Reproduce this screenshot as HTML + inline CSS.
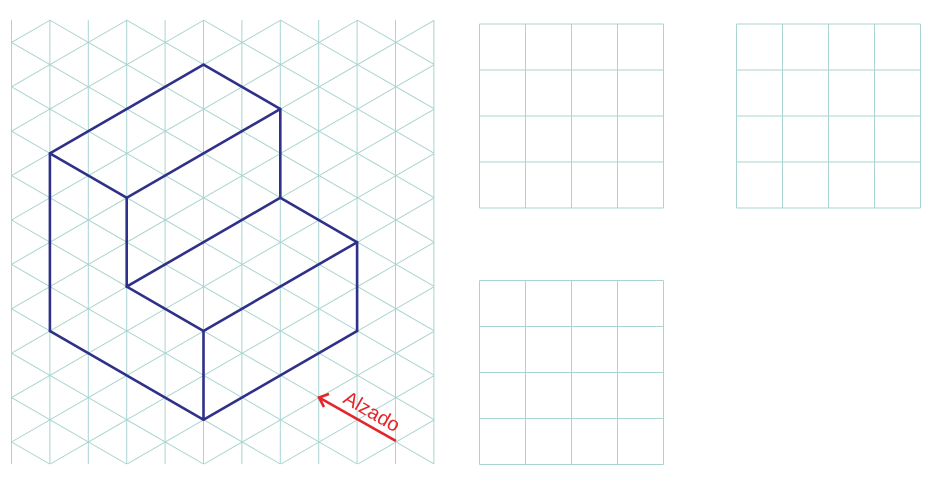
<!DOCTYPE html>
<html><head><meta charset="utf-8"><style>
html,body{margin:0;padding:0;background:#fff;width:933px;height:490px;overflow:hidden}
svg{display:block}
</style></head><body>
<svg id="s" width="933" height="490" viewBox="0 0 933 490">
<g id="grid" stroke="#a9d4d0" stroke-width="1"></g>
<g id="squares" stroke="#a9d4d0" stroke-width="1" fill="none"></g>
<g id="shape" stroke="#2e3089" stroke-width="2.6" fill="none" stroke-linejoin="round" stroke-linecap="round"></g>
<g>
<line x1="396" y1="441" x2="320" y2="398" stroke="#e3262b" stroke-width="2.6"/>
<polyline points="329,394 319,397.5 324,407" fill="none" stroke="#e3262b" stroke-width="2.6"/>
<text x="0" y="0" transform="translate(342,402) rotate(30)" font-family="Liberation Sans, sans-serif" font-size="20" fill="#e3262b">Alzado</text>
</g>
</svg>
<script>
const NS="http://www.w3.org/2000/svg";
const cols=[0,1,2,3,4,5,6,7,8,9,10,11];
const x0=11.5,dx=38.4,y0=42.4,dy=44.4,t=Math.tan(Math.PI/6);
const XL=11.5,XR=434,YT=20,YB=464;
function ln(g,a,b,c,d){const l=document.createElementNS(NS,'line');l.setAttribute('x1',a);l.setAttribute('y1',b);l.setAttribute('x2',c);l.setAttribute('y2',d);g.appendChild(l);return l;}
function clipLine(yStart,s){
  // line y = yStart + s*(x-XL), clip to rect
  let xa=XL,xb=XR;
  const xAt=y=>XL+(y-yStart)/s;
  const xt=xAt(YT),xbm=xAt(YB);
  const lo=Math.min(xt,xbm),hi=Math.max(xt,xbm);
  xa=Math.max(xa,lo);xb=Math.min(xb,hi);
  if(xb<=xa)return null;
  return [xa,yStart+s*(xa-XL),xb,yStart+s*(xb-XL)];
}
const grid=document.getElementById('grid');
cols.forEach(k=>{const l=ln(grid,x0+k*dx,YT,x0+k*dx,YB);

});
for(let k=-12;k<=22;k++){const y=y0+k*dy;
const p=clipLine(y,t);
if(p){const a=ln(grid,p[0],p[1],p[2],p[3]);

}
const q=clipLine(y,-t);
if(q){const b=ln(grid,q[0],q[1],q[2],q[3]);

}}
const sq=document.getElementById('squares');
const origins=[[479.5,24],[736.5,24],[479.5,280.5]];
origins.forEach(o=>{for(let i=0;i<=4;i++){
const v=ln(sq,o[0]+i*46,o[1],o[0]+i*46,o[1]+184);


const h=ln(sq,o[0],o[1]+i*46,o[0]+184,o[1]+i*46);

}});
const sh=document.getElementById('shape');
const P=(c,r)=>[x0+c*dx,20.2+r*22.2];
const edges=[[[1,6],[5,2]],[[5,2],[7,4]],[[7,4],[7,8]],[[7,8],[9,10]],[[9,10],[9,14]],[[9,14],[5,18]],[[5,18],[1,14]],[[1,14],[1,6]],
[[1,6],[3,8]],[[3,8],[7,4]],[[3,8],[3,12]],[[3,12],[7,8]],[[3,12],[5,14]],[[5,14],[9,10]],[[5,14],[5,18]]];
edges.forEach(e=>{const a=P(...e[0]),b=P(...e[1]);const l=ln(sh,a[0],a[1],b[0],b[1]);

});
</script>
</body></html>
